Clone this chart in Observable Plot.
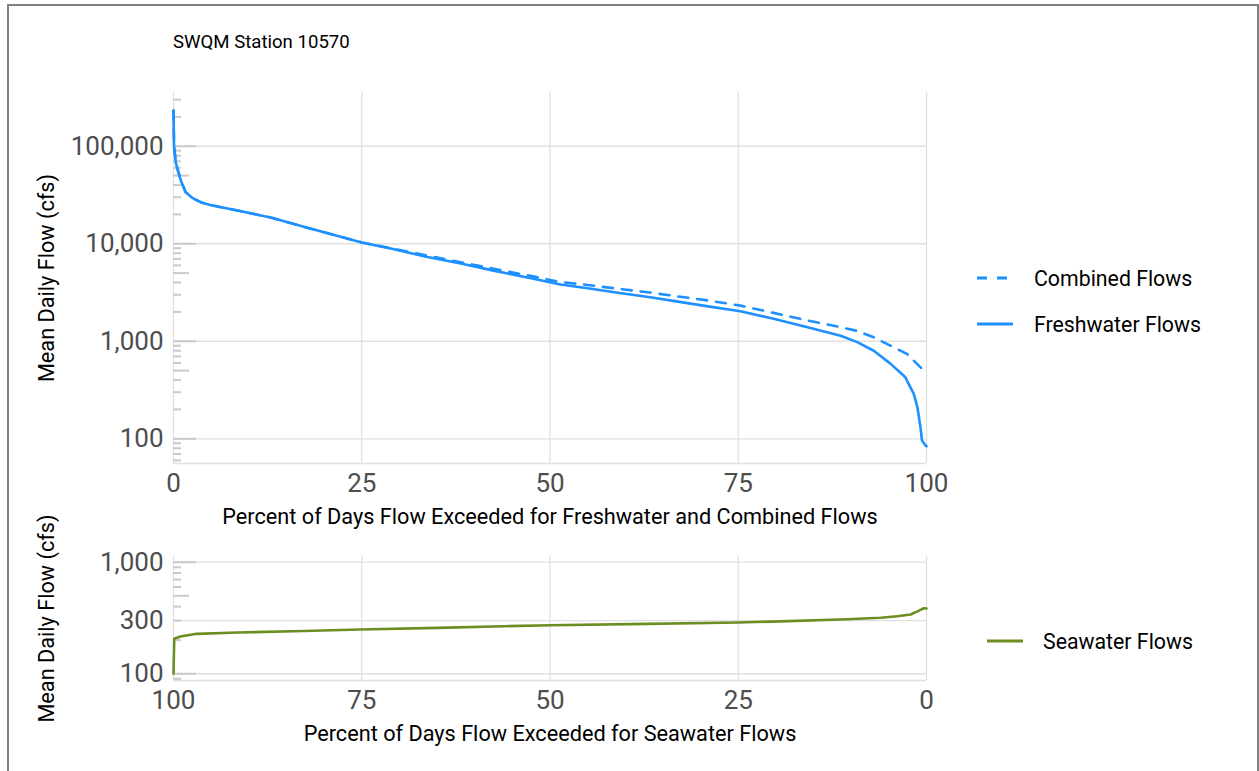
<!DOCTYPE html>
<html>
<head>
<meta charset="utf-8">
<script src="https://cdn.jsdelivr.net/npm/d3@7"></script>
<script src="https://cdn.jsdelivr.net/npm/@observablehq/plot@0.6"></script>
<style>
html, body { margin: 0; padding: 0; background: #fff; overflow: hidden; }
#page { position: relative; width: 1259px; height: 771px; font-family: Roboto, sans-serif; overflow: hidden; }
#frame { position: absolute; left: 7px; top: 4px; width: 1252px; height: 820px; border: 2px solid #808080; box-sizing: border-box; }
#title { position: absolute; left: 173px; top: 33px; font-size: 18.6px; line-height: 1; color: #000; white-space: nowrap; }
.plot { position: absolute; left: 0; }
.leg { position: absolute; display: flex; align-items: center; font-size: 21.3px; color: #000; white-space: nowrap; }
.leg svg { display: block; }
</style>
</head>
<body>
<div id="page">
  <div id="frame"></div>
  <div id="title">SWQM Station 10570</div>
  <div id="top" class="plot" style="top:0px"></div>
  <div id="bot" class="plot" style="top:490px"></div>
</div>
<script>
// ---------- data ----------
const stationTitle = "SWQM Station 10570";

// Freshwater flow-duration curve (percent exceeded, cfs)
const freshPct  = [0, 0.07, 0.3, 0.66, 1.0, 1.6, 2.5, 3.6, 5, 8.5, 12.9, 17.3, 21.7, 25, 29, 33.7, 38, 42.5, 47, 51.4, 55, 59, 63.3, 67, 71, 75.3, 79.7, 84.2, 88.6, 90.8, 93, 95.2, 97.2, 97.4, 98.3, 98.8, 99.2, 99.4, 99.9, 100];
const freshFlow = [232000, 100000, 68000, 54000, 44000, 34000, 29500, 26700, 24800, 21900, 18600, 14900, 12100, 10300, 8900, 7300, 6300, 5300, 4500, 3820, 3500, 3150, 2830, 2550, 2280, 2030, 1700, 1390, 1140, 980, 800, 590, 428, 395, 290, 210, 131, 96, 85, 84];

// Combined (fresh + sea) flow-duration curve
const combPct  = [0, 0.07, 0.3, 0.66, 1.0, 1.6, 2.5, 3.6, 5, 8.5, 12.9, 17.3, 21.7, 25, 29, 33.7, 38, 42.5, 47, 51.4, 55, 59, 63.3, 67, 71, 75.3, 79.7, 84.2, 88.6, 90.8, 93, 95.2, 97.4, 98.3, 99.4, 100];
const combFlow = [232000, 100000, 68000, 54000, 44000, 34000, 29500, 26700, 24800, 21900, 18600, 14900, 12100, 10300, 8950, 7560, 6500, 5550, 4750, 4050, 3780, 3460, 3160, 2880, 2620, 2320, 1955, 1633, 1394, 1277, 1098, 904, 743, 634, 522, 480];

// Seawater flow-duration curve
const seaPct  = [100, 99.9, 99.1, 96.9, 91.5, 82.7, 75.2, 65, 56.1, 49.9, 37, 25, 19.4, 10.5, 6.1, 3.9, 2.1, 1.2, 0.35, 0];
const seaFlow = [100, 206, 216, 228, 234, 242, 249, 258, 267, 272, 280, 288, 295, 308, 318, 328, 340, 362, 387, 385];

// axis ticks
const xTicks = [0, 25, 50, 75, 100];
const topYTicks = [100, 1000, 10000, 100000];
const botYTicks = [100, 300, 1000];
const topYDomain = [55.8, 355600];
const botYDomain = [87, 1125];

// log tick annotations (short / mid / long)
const topShort = [60, 70, 80, 90, 200, 300, 400, 600, 700, 800, 900, 2000, 3000, 4000, 6000, 7000, 8000, 9000, 20000, 30000, 40000, 60000, 70000, 80000, 90000, 200000, 300000];
const topMid = [500, 5000, 50000];
const topLong = [100, 1000, 10000, 100000];
const botShort = [90, 200, 300, 400, 600, 700, 800, 900];
const botMid = [500];
const botLong = [100, 1000];

const topXLabel = "Percent of Days Flow Exceeded for Freshwater and Combined Flows";
const botXLabel = "Percent of Days Flow Exceeded for Seawater Flows";
const yLabel = "Mean Daily Flow (cfs)";
const legendTop = ["Combined Flows", "Freshwater Flows"];
const legendBot = ["Seawater Flows"];

// ---------- build tables ----------
const fresh = freshPct.map((p, i) => ({pct: p, flow: freshFlow[i]}));
const comb = combPct.map((p, i) => ({pct: p, flow: combFlow[i]}));
const sea = seaPct.map((p, i) => ({pct: p, flow: seaFlow[i]}));

// ---------- styling ----------
const W = 960, ML = 173, MR = 34;
const panelW = W - ML - MR;
const gridStyle = {stroke: "#e0e0e0", strokeOpacity: 1, strokeWidth: 1.3};
const logTickStyle = {stroke: "#c9c9c9", strokeOpacity: 1, strokeWidth: 2};
const lenShort = 8, lenMid = 16, lenLong = 23;
const BLUE = "#1e90ff", GREEN = "#6b8e23";
const tickText = {tickSize: 0, tickPadding: 10, fontSize: 26, color: "#4d4d4d", label: null};
const titleText = {fontSize: 21.7, fill: "#000", lineAnchor: "middle", textAnchor: "middle"};

function logTicks(shortV, midV, longV) {
  return [
    Plot.tickY(shortV, {...logTickStyle, insetRight: panelW - lenShort}),
    Plot.tickY(midV, {...logTickStyle, insetRight: panelW - lenMid}),
    Plot.tickY(longV, {...logTickStyle, insetRight: panelW - lenLong})
  ];
}

const topPlot = Plot.plot({
  width: W, height: 540,
  marginLeft: ML, marginRight: MR, marginTop: 92, marginBottom: 77,
  style: {fontFamily: "Roboto, sans-serif", background: "none", overflow: "visible"},
  x: {domain: [0, 100]},
  y: {type: "log", domain: topYDomain},
  marks: [
    Plot.gridX(xTicks, gridStyle),
    Plot.gridY(topYTicks, gridStyle),
    Plot.ruleY([topYDomain[0]], gridStyle),
    ...logTicks(topShort, topMid, topLong),
    Plot.line(comb, {x: "pct", y: "flow", stroke: BLUE, strokeWidth: 2.6, strokeDasharray: "10,9"}),
    Plot.line(fresh, {x: "pct", y: "flow", stroke: BLUE, strokeWidth: 2.6}),
    Plot.axisX({ticks: xTicks, ...tickText}),
    Plot.axisY({ticks: topYTicks, tickFormat: ",", ...tickText}),
    Plot.text([topXLabel], {frameAnchor: "bottom", dy: 54, ...titleText}),
    Plot.text([yLabel], {frameAnchor: "left", rotate: -90, dx: -126, ...titleText})
  ]
});
document.getElementById("top").append(topPlot);

const botPlot = Plot.plot({
  width: W, height: 281,
  marginLeft: ML, marginRight: MR, marginTop: 66, marginBottom: 91,
  style: {fontFamily: "Roboto, sans-serif", background: "none", overflow: "visible"},
  x: {domain: [100, 0]},
  y: {type: "log", domain: botYDomain},
  marks: [
    Plot.gridX(xTicks, gridStyle),
    Plot.gridY(botYTicks, gridStyle),
    Plot.ruleY([botYDomain[0]], gridStyle),
    ...logTicks(botShort, botMid, botLong),
    Plot.line(sea, {x: "pct", y: "flow", stroke: GREEN, strokeWidth: 2.6}),
    Plot.axisX({ticks: xTicks, ...tickText}),
    Plot.axisY({ticks: botYTicks, tickFormat: ",", ...tickText}),
    Plot.text([botXLabel], {frameAnchor: "bottom", dy: 54, ...titleText}),
    Plot.text([yLabel], {frameAnchor: "left", rotate: -90, dx: -126, ...titleText})
  ]
});
document.getElementById("bot").append(botPlot);

// ---------- legends ----------
function legendItem(label, color, dash, left, centerY, swLen, textLeft) {
  const d = document.createElement("div");
  d.className = "leg";
  d.style.left = left + "px";
  d.style.top = (centerY - 15) + "px";
  d.style.height = "30px";
  d.innerHTML = `<svg width="${swLen}" height="30"><line x1="0" x2="${swLen}" y1="15" y2="15" stroke="${color}" stroke-width="2.8" ${dash ? `stroke-dasharray="${dash}"` : ""}/></svg><span style="margin-left:${textLeft - left - swLen}px">${label}</span>`;
  document.getElementById("page").append(d);
}
legendItem(legendTop[0], BLUE, "10,10", 977, 278, 36, 1034);
legendItem(legendTop[1], BLUE, null, 977, 324, 36, 1034);
legendItem(legendBot[0], GREEN, null, 987, 641, 36, 1043);
</script>
</body>
</html>
